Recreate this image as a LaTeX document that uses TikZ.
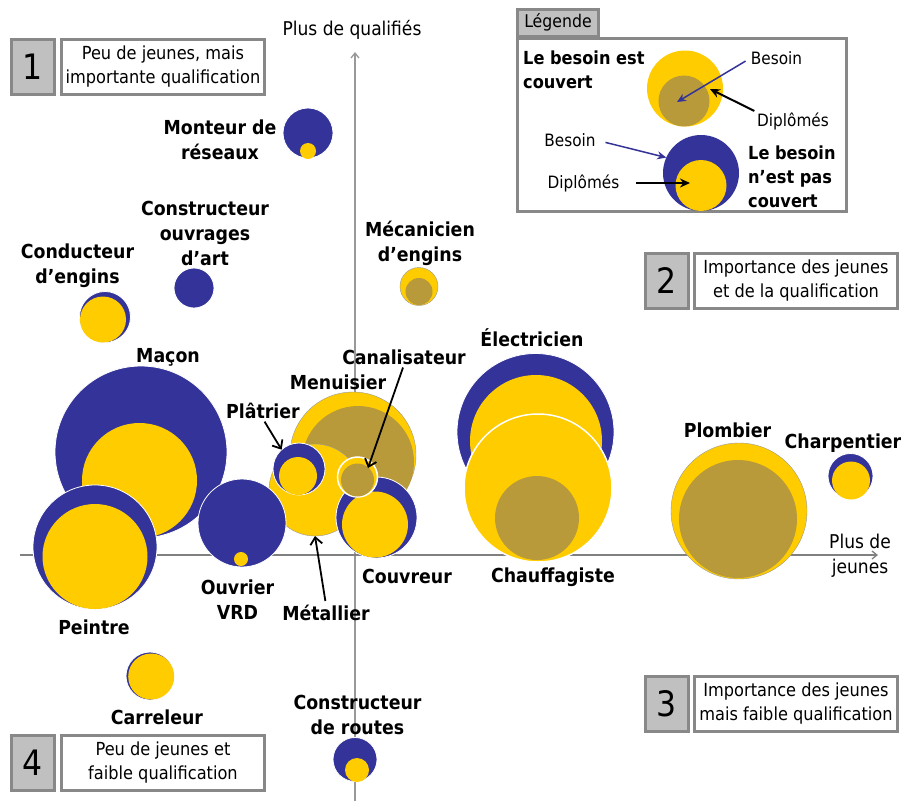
\documentclass[tikz,border=0pt]{standalone}
\usepackage{fontspec}
\setmainfont{DejaVu Sans Condensed}
\usetikzlibrary{arrows.meta}
\definecolor{bleu}{RGB}{51,51,153}
\definecolor{jaune}{RGB}{255,204,0}
\definecolor{kaki}{RGB}{184,154,58}
\definecolor{cadre}{RGB}{136,136,136}
\definecolor{fondgris}{RGB}{192,192,192}
\definecolor{axe}{RGB}{128,128,128}

\begin{document}
\begin{tikzpicture}[x=1pt,y=-1pt,
  besoin/.style={circle,fill=bleu,draw=white,line width=0.8pt,inner sep=0pt,outer sep=0pt},
  diplome/.style={circle,fill=jaune,inner sep=0pt,outer sep=0pt},
  couvre/.style={circle,fill=jaune,draw=black!40,line width=0.4pt,inner sep=0pt,outer sep=0pt},
  besoinc/.style={circle,fill=kaki,inner sep=0pt,outer sep=0pt},
  metier/.style={font=\fontsize{19.3}{25}\selectfont\bfseries,align=center,inner sep=0pt},
  texte/.style={font=\fontsize{18}{24}\selectfont,align=center,inner sep=0pt},
  legtitre/.style={font=\fontsize{18}{24}\selectfont\bfseries,align=left,inner sep=0pt,anchor=west},
  numero/.style={draw=cadre,line width=3pt,fill=fondgris,minimum width=43pt,minimum height=55pt,font=\fontsize{35}{35}\selectfont,inner sep=0pt},
  quadrant/.style={draw=cadre,line width=3pt,fill=white,minimum width=203pt,minimum height=55pt,font=\fontsize{18}{24}\selectfont,align=center,inner sep=0pt},
  fleche/.style={draw=black,line width=1.8pt,-{Straight Barb[length=7pt,width=12pt]}},
  flechebleue/.style={draw=bleu,line width=1.5pt,-{Stealth[length=9pt,width=8pt]}},
  flechenoire/.style={draw=black,line width=2pt,-{Stealth[length=10pt,width=9pt]}},
  axeligne/.style={draw=axe,line width=1.3pt,-{Straight Barb[length=5pt,width=8pt]}}
]
\useasboundingbox (0,0) rectangle (904,801);

% axes
\coordinate (vbas) at (355,801);
\coordinate (vhaut) at (355,52);
\coordinate (hgauche) at (20,555);
\coordinate (hdroite) at (878,555);
\draw[axeligne,draw=axe!80] (vbas) -- (vhaut);
\draw[axeligne] (hgauche) -- (hdroite);
\node[texte,font=\fontsize{19}{25}\selectfont] (qualif) at (352,30) {Plus de qualifiés};
\node[texte,font=\fontsize{19}{25}\selectfont] (jeunes) at (860,555.5) {Plus de\\jeunes};

% quadrants
\node[numero] (n1) at (32.5,67) {1};
\node[quadrant] (q1) at (163,67) {Peu de jeunes, mais\\importante qualification};
\node[numero] (n2) at (666.5,281) {2};
\node[quadrant] (q2) at (796,281) {Importance des jeunes\\et de la qualification};
\node[numero] (n3) at (666.5,703.5) {3};
\node[quadrant] (q3) at (796,703.5) {Importance des jeunes\\mais faible qualification};
\node[numero] (n4) at (33,762.5) {4};
\node[quadrant] (q4) at (163,762.5) {Peu de jeunes et\\faible qualification};

% legend
\node[draw=cadre,line width=3pt,fill=white,minimum width=329pt,minimum height=173pt,inner sep=0pt] (legcadre) at (682,125) {};
\node[draw=cadre,line width=3pt,fill=fondgris,minimum width=81pt,minimum height=27pt,inner sep=0pt,font=\fontsize{17.5}{24}\selectfont] (legtab) at (558,22.5) {Légende};
\node[legtitre] (legA) at (523,69.5) {Le besoin est\\couvert};
\node[couvre,draw=none,minimum size=76pt] (legAy) at (685,88.5) {};
\node[besoinc,minimum size=51pt] (legAk) at (684,101) {};
\node[texte,font=\fontsize{17}{24}\selectfont] (besA) at (776.5,58) {Besoin};
\node[texte,font=\fontsize{17}{24}\selectfont] (dipA) at (793,121) {Diplômés};
\coordinate (besAtip) at (677,102);
\coordinate (dipAtip) at (710,89);
\draw[flechebleue,shorten <=6pt] (besA.west) -- (besAtip);
\draw[flechenoire,shorten <=3pt] (dipA.north west) -- (dipAtip);

\node[besoin,draw=none,minimum size=76pt] (legB) at (701,173) {};
\node[diplome,minimum size=51pt] (legBy) at (701,185.5) {};
\node[texte,font=\fontsize{17}{24}\selectfont] (besB) at (570,140) {Besoin};
\node[texte,font=\fontsize{17}{24}\selectfont] (dipB) at (583.5,183) {Diplômés};
\coordinate (dipBtip) at (690,183);
\draw[flechebleue,shorten <=10pt] (besB.east) -- (legB.156);
\draw[flechenoire,shorten <=16pt] (dipB.east) -- (dipBtip);
\node[legtitre] (legBt) at (748,176.5) {Le besoin\\n’est pas\\couvert};

% bubbles, back to front
\node[besoin,minimum size=50pt] (monteur) at (308,133) {};
\node[diplome,minimum size=16pt] (monteurd) at (308,151) {};
\node[besoin,minimum size=40pt] (ouvrages) at (194,288) {};
\node[besoin,minimum size=51pt] (conducteur) at (105,317) {};
\node[diplome,minimum size=46pt] (conducteurd) at (103,319.5) {};
\node[couvre,minimum size=38pt] (mecanicien) at (419,286.5) {};
\node[besoinc,minimum size=27pt] (mecanicienb) at (419,291.5) {};

\node[besoin,minimum size=172pt] (macon) at (141,452) {};
\node[diplome,minimum size=115pt] (macond) at (139.5,480.5) {};
\node[besoin,minimum size=124pt] (peintre) at (95,547) {};
\node[diplome,minimum size=105pt] (peintred) at (95,556.5) {};

\node[couvre,minimum size=126pt] (menuisier) at (353,455) {};
\node[besoinc,minimum size=112pt] (menuisierb) at (358,462) {};

\node[besoin,minimum size=157pt] (electricien) at (535.5,432) {};
\node[diplome,minimum size=132pt] (electriciend) at (536,441) {};
\node[couvre,draw=white,line width=1.5pt,minimum size=148pt] (chauffagiste) at (538,488) {};
\node[besoinc,minimum size=84pt] (chauffagisteb) at (537,518) {};

\node[couvre,minimum size=136pt] (plombier) at (739,511) {};
\node[besoinc,minimum size=118pt] (plombierb) at (738,519) {};
\node[besoin,minimum size=45pt] (charpentier) at (850.5,476) {};
\node[diplome,minimum size=38pt] (charpentierd) at (851,480.5) {};

\node[couvre,minimum size=92pt] (metallier) at (315,490) {};
\node[besoin,minimum size=52pt] (platrier) at (299,469) {};
\node[diplome,minimum size=38pt] (platrierd) at (298,476) {};
\node[besoin,minimum size=81pt] (couvreur) at (376.5,517.5) {};
\node[diplome,minimum size=66pt] (couvreurd) at (375,524.5) {};
\node[couvre,draw=white,line width=1.5pt,minimum size=40pt] (canalisateur) at (357.5,477) {};
\node[besoinc,minimum size=33pt] (canalisateurb) at (357.5,480) {};
\node[besoin,minimum size=88pt] (vrd) at (242,523) {};
\node[diplome,minimum size=14pt] (vrdd) at (241,559) {};

\node[besoin,minimum size=48pt] (carreleur) at (150,676) {};
\node[diplome,minimum size=46pt] (carreleurd) at (151.2,676.5) {};
\node[besoin,minimum size=44pt] (routes) at (355,759.5) {};
\node[diplome,minimum size=24pt] (routesd) at (357,770) {};

% trade names
\node[metier] (monteurL) at (220,139.5) {Monteur de\\réseaux};
\node[metier] (ouvragesL) at (205,233.5) {Constructeur\\ouvrages\\d’art};
\node[metier] (conducteurL) at (77.5,265.5) {Conducteur\\d’engins};
\node[metier] (mecanicienL) at (420,243) {Mécanicien\\d’engins};
\node[metier] (maconL) at (168,357) {Maçon};
\node[metier] (platrierL) at (263,411) {Plâtrier};
\node[metier] (menuisierL) at (338,382) {Menuisier};
\node[metier] (canalL) at (404,357) {Canalisateur};
\node[metier] (electricienL) at (532,338) {Électricien};
\node[metier] (chauffL) at (553,577) {Chauffagiste};
\node[metier] (couvreurL) at (407,576) {Couvreur};
\node[metier] (vrdL) at (237.5,599.5) {Ouvrier\\VRD};
\node[metier] (metalL) at (326,613) {Métallier};
\node[metier] (peintreL) at (94,627) {Peintre};
\node[metier] (plombierL) at (727.5,430) {Plombier};
\node[metier] (charpL) at (843,443) {Charpentier};
\node[metier] (carreleurL) at (157,717) {Carreleur};
\node[metier] (routesL) at (357.5,714.5) {Constructeur\\de routes};

% pointers from names to bubbles
\coordinate (canaltip) at (368,468);
\draw[fleche,shorten <=3pt] (canalL.south) -- (canaltip);
\draw[fleche,shorten <=3pt] (platrierL.south) -- (platrier.132);
\draw[fleche,shorten <=4pt] (metalL.north) -- (metallier.south);
\end{tikzpicture}
\end{document}
